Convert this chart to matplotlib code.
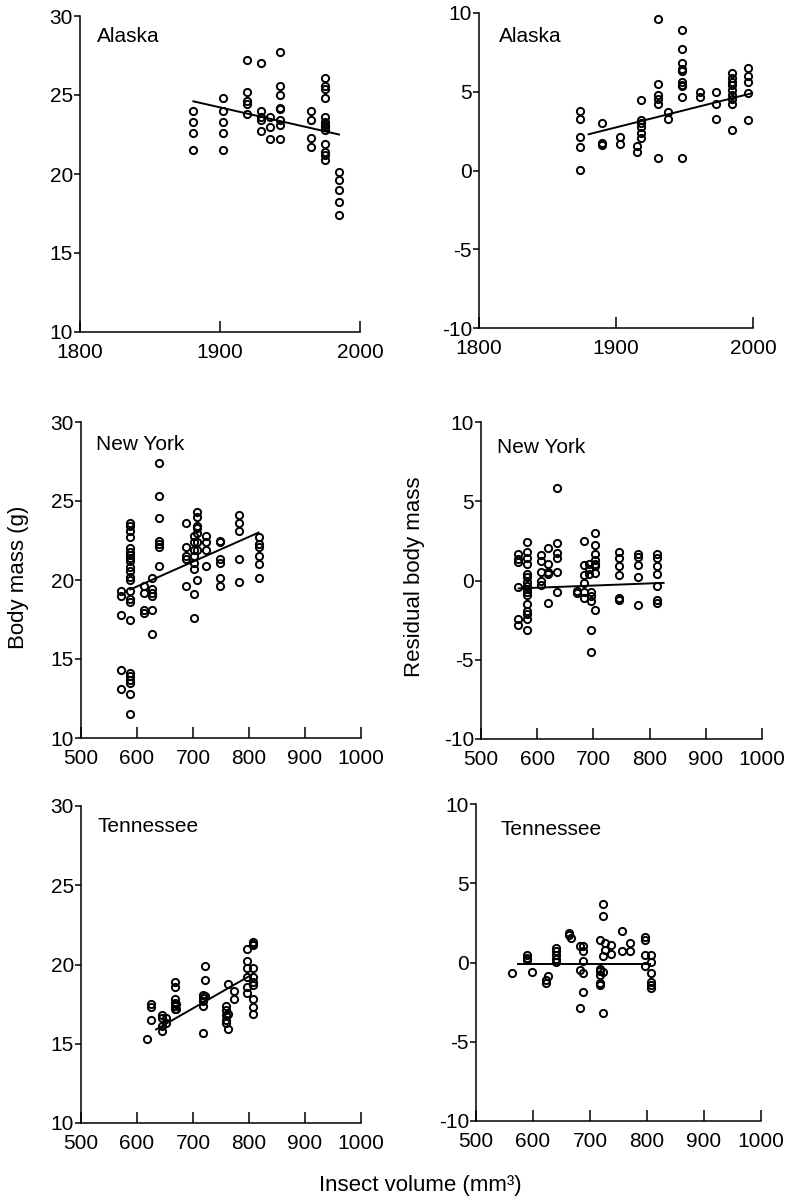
import matplotlib
matplotlib.use("Agg")
import matplotlib.pyplot as plt

plt.rcParams['font.family'] = ['Liberation Sans', 'DejaVu Sans']
plt.rcParams['axes.unicode_minus'] = False

# Alaska - body mass vs year
ak_year = [1881, 1881, 1881, 1881,
           1902, 1902, 1902, 1902, 1902,
           1919, 1919, 1919, 1919, 1919,
           1929, 1929, 1929, 1929, 1929,
           1936, 1936, 1936,
           1943, 1943, 1943, 1943, 1943, 1943, 1943, 1943,
           1965, 1965, 1965, 1965,
           1975, 1975, 1975, 1975, 1975, 1975, 1975, 1975, 1975, 1975, 1975, 1975, 1975,
           1985, 1985, 1985, 1985, 1985]
ak_mass = [24.0, 23.3, 22.6, 21.5,
           24.8, 24.0, 23.3, 22.6, 21.5,
           27.2, 25.2, 24.6, 24.4, 23.8,
           27.0, 24.0, 23.6, 23.4, 22.7,
           23.6, 23.0, 22.2,
           27.7, 25.6, 25.0, 24.2, 24.1, 23.4, 23.1, 22.2,
           24.0, 23.4, 22.3, 21.7,
           26.1, 25.6, 25.4, 24.8, 23.6, 23.3, 23.1, 23.0, 22.8, 21.9, 21.4, 21.2, 20.9,
           20.1, 19.6, 19.0, 18.2, 17.4]
ak_fit_x = [1881, 1985]
ak_fit_y = [24.6, 22.5]

# Alaska - residual body mass vs year
akr_year = [1874, 1874, 1874, 1874, 1874,
            1890, 1890, 1890,
            1903, 1903,
            1915, 1915,
            1918, 1918, 1918, 1918, 1918, 1918,
            1931, 1931, 1931, 1931, 1931, 1931,
            1938, 1938,
            1948, 1948, 1948, 1948, 1948, 1948, 1948, 1948, 1948, 1948,
            1961, 1961,
            1973, 1973, 1973,
            1985, 1985, 1985, 1985, 1985, 1985, 1985, 1985, 1985,
            1996, 1996, 1996, 1996, 1996]
akr_res = [3.8, 3.3, 2.1, 1.5, 0.06,
           3.0, 1.75, 1.65,
           2.1, 1.7,
           1.55, 1.2,
           4.5, 3.2, 3.0, 2.75, 2.4, 2.05,
           9.6, 5.5, 4.8, 4.55, 4.25, 0.8,
           3.7, 3.3,
           8.9, 7.7, 6.8, 6.45, 6.3, 5.65, 5.45, 5.35, 4.65, 0.8,
           5.0, 4.65,
           5.0, 4.25, 3.3,
           6.2, 5.9, 5.6, 5.4, 5.1, 4.8, 4.55, 4.25, 2.55,
           6.5, 6.0, 5.6, 4.9, 3.2]
akr_fit_x = [1880, 1999]
akr_fit_y = [2.3, 4.9]

# New York - body mass vs insect volume
ny_vol = [572, 572, 572, 572, 572,
          588, 588, 588, 588, 588, 588, 588, 588, 588, 588, 588, 588,
          588, 588, 588, 588, 588, 588, 588, 588, 588, 588, 588,
          613, 613, 613, 613,
          626, 626, 626, 626, 626, 626,
          640, 640, 640, 640, 640, 640, 640,
          688, 688, 688, 688, 688,
          701, 701, 701, 701, 701, 701, 701, 701,
          707, 707, 707, 707, 707, 707, 707, 707,
          724, 724, 724, 724,
          749, 749, 749, 749, 749, 749,
          783, 783, 783, 783, 783,
          817, 817, 817, 817, 817, 817]
ny_mass = [19.3, 19.0, 17.8, 14.3, 13.1,
           23.6, 23.4, 23.1, 22.7, 22.0, 21.8, 21.6, 21.4, 21.2, 20.8, 20.6, 20.2,
           20.0, 19.3, 18.8, 18.6, 17.5, 14.1, 13.9, 13.7, 13.5, 12.8, 11.5,
           19.6, 19.2, 18.1, 17.9,
           20.1, 19.4, 19.2, 19.0, 18.1, 16.6,
           27.4, 25.3, 23.9, 22.5, 22.3, 22.1, 20.9,
           23.6, 22.1, 21.5, 21.3, 19.6,
           22.8, 22.4, 21.9, 21.5, 21.1, 20.7, 19.1, 17.6,
           24.3, 24.0, 23.4, 23.3, 23.0, 22.4, 21.9, 20.0,
           22.8, 22.4, 21.9, 20.9,
           22.5, 22.4, 21.3, 21.1, 20.1, 19.6,
           24.1, 23.6, 23.1, 21.3, 19.9,
           22.7, 22.3, 22.1, 21.5, 21.0, 20.1]
ny_fit_x = [588, 817]
ny_fit_y = [19.4, 23.0]

# New York - residual body mass vs insect volume
nyr_vol = [565, 565, 565, 565, 565, 565,
           582, 582, 582, 582, 582, 582, 582, 582, 582, 582, 582, 582, 582, 582, 582, 582,
           607, 607, 607, 607, 607,
           620, 620, 620, 620, 620,
           635, 635, 635, 635, 635, 635,
           670, 670,
           683, 683, 683, 683, 683, 683,
           693, 693, 693,
           696, 696, 696, 696, 696,
           702, 702, 702, 702, 702, 702, 702, 702,
           746, 746, 746, 746, 746, 746,
           780, 780, 780, 780, 780,
           814, 814, 814, 814, 814, 814, 814]
nyr_res = [1.7, 1.35, 1.15, -0.4, -2.4, -2.8,
           2.4, 1.8, 1.45, 1.05, 0.4, 0.25, -0.1, -0.35, -0.55, -0.7, -0.9, -1.5, -1.9, -2.1, -2.4, -3.15,
           1.6, 1.25, 0.55, 0.0, -0.3,
           2.05, 1.05, 0.55, 0.4, -1.45,
           5.85, 2.35, 1.75, 1.4, 0.55, -0.7,
           -0.65, -0.8,
           2.5, 1.0, 0.35, -0.15, -0.7, -1.1,
           1.05, 0.75, 0.4,
           -0.75, -1.0, -1.3, -3.15, -4.5,
           3.0, 2.25, 1.7, 1.3, 1.05, 0.9, 0.45, -1.85,
           1.8, 1.45, 0.9, 0.35, -1.1, -1.25,
           1.7, 1.5, 0.95, 0.2, -1.55,
           1.7, 1.45, 0.9, 0.4, -0.35, -1.2, -1.4]
nyr_fit_x = [567, 825]
nyr_fit_y = [-0.5, -0.15]

# Tennessee - body mass vs insect volume
tn_vol = [617,
          625, 625, 625,
          645, 645, 645, 645,
          651, 651,
          667, 667, 667, 667, 667, 667,
          670, 670,
          718, 718, 718, 718, 718,
          722, 722, 722,
          759, 759, 759, 759, 759,
          763, 763, 763,
          773, 773,
          797, 797, 797, 797, 797, 797,
          807, 807, 807, 807, 807, 807, 807, 807, 807, 807]
tn_mass = [15.3,
           17.5, 17.3, 16.5,
           16.8, 16.6, 16.1, 15.8,
           16.6, 16.3,
           18.9, 18.6, 17.8, 17.6, 17.4, 17.2,
           17.5, 17.2,
           18.1, 17.9, 17.7, 17.4, 15.7,
           19.9, 19.0, 18.0,
           17.4, 17.1, 16.8, 16.5, 16.3,
           18.8, 16.9, 15.9,
           18.3, 17.8,
           21.0, 20.2, 19.8, 19.2, 18.6, 18.2,
           21.4, 21.3, 21.2, 19.8, 19.2, 18.9, 18.7, 17.8, 17.3, 16.9]
tn_fit_x = [634, 807]
tn_fit_y = [15.9, 19.4]

# Tennessee - residual body mass vs insect volume
tnr_vol = [564,
           589, 589, 589,
           598,
           622, 622,
           626,
           641, 641, 641, 641, 641,
           663, 663,
           667,
           683, 683, 683,
           688, 688, 688, 688, 688,
           717, 717, 717, 717, 717, 717,
           723, 723, 723, 723, 723,
           727, 727,
           736, 736,
           756, 756,
           771, 771,
           797, 797, 797, 797,
           807, 807, 807, 807, 807, 807]
tnr_res = [-0.65,
           0.5, 0.3, 0.15,
           -0.6,
           -1.1, -1.3,
           -0.85,
           0.9, 0.7, 0.45, 0.25, 0.05,
           1.85, 1.75,
           1.55,
           1.05, -2.85, -0.5,
           1.05, 0.7, 0.1, -0.65, -1.85,
           1.45, -0.4, -0.55, -0.8, -1.3, -1.45,
           3.7, 2.95, 0.4, -0.6, -3.2,
           1.2, 0.8,
           1.1, 0.55,
           2.0, 0.7,
           1.2, 0.7,
           1.6, 1.4, 0.5, -0.2,
           0.45, 0.05, -0.65, -1.2, -1.4, -1.6]
tnr_fit_x = [574, 806]
tnr_fit_y = [-0.1, -0.1]

W, H = 796, 1200
fig = plt.figure(figsize=(W / 100, H / 100), dpi=100)


def make_ax(left, top, right, bottom):
    ax = fig.add_axes([left / W, 1 - bottom / H, (right - left) / W, (bottom - top) / H])
    ax.spines['top'].set_visible(False)
    ax.spines['right'].set_visible(False)
    ax.spines['left'].set_linewidth(1.1)
    ax.spines['bottom'].set_linewidth(1.1)
    ax.tick_params(axis='y', direction='out', length=4, width=1.1, pad=1, labelsize=15)
    ax.tick_params(axis='x', direction='in', length=8, width=1.1, pad=8, labelsize=15)
    return ax


def draw(ax, x, y, fx, fy):
    ax.plot(x, y, 'o', mfc='none', mec='black', ms=5.2, mew=1.4, clip_on=False)
    ax.plot(fx, fy, '-', color='black', lw=1.4)


panels = [
    (make_ax(80, 16, 360, 332), ak_year, ak_mass, ak_fit_x, ak_fit_y, 'Alaska', (97, 27)),
    (make_ax(479, 13, 753, 328), akr_year, akr_res, akr_fit_x, akr_fit_y, 'Alaska', (499, 27)),
    (make_ax(81, 422, 361, 738), ny_vol, ny_mass, ny_fit_x, ny_fit_y, 'New York', (96, 435)),
    (make_ax(481, 422, 762, 739), nyr_vol, nyr_res, nyr_fit_x, nyr_fit_y, 'New York', (497, 438)),
    (make_ax(81, 806, 361, 1123), tn_vol, tn_mass, tn_fit_x, tn_fit_y, 'Tennessee', (97, 817)),
    (make_ax(476, 804, 761, 1121), tnr_vol, tnr_res, tnr_fit_x, tnr_fit_y, 'Tennessee', (500, 820)),
]

for i, (ax, x, y, fx, fy, name, pos) in enumerate(panels):
    draw(ax, x, y, fx, fy)
    if i < 2:
        ax.set_xlim(1800, 2000)
        ax.set_xticks([1800, 1900, 2000])
    else:
        ax.set_xlim(500, 1000)
        ax.set_xticks([500, 600, 700, 800, 900, 1000])
    if i % 2 == 0:
        ax.set_ylim(10, 30)
        ax.set_yticks([10, 15, 20, 25, 30])
    else:
        ax.set_ylim(-10, 10)
        ax.set_yticks([-10, -5, 0, 5, 10])
    fig.text(pos[0] / W, 1 - pos[1] / H, name, fontsize=15, va='top', ha='left')

fig.text(19 / W, 1 - 577 / H, 'Body mass (g)', fontsize=16, rotation=90, ha='center', va='center')
fig.text(415 / W, 1 - 577 / H, 'Residual body mass', fontsize=16, rotation=90, ha='center', va='center')
fig.text(420 / W, 1 - 1185 / H, 'Insect volume (mm³)', fontsize=16, ha='center', va='center')

fig.savefig('out.png', dpi=100)
